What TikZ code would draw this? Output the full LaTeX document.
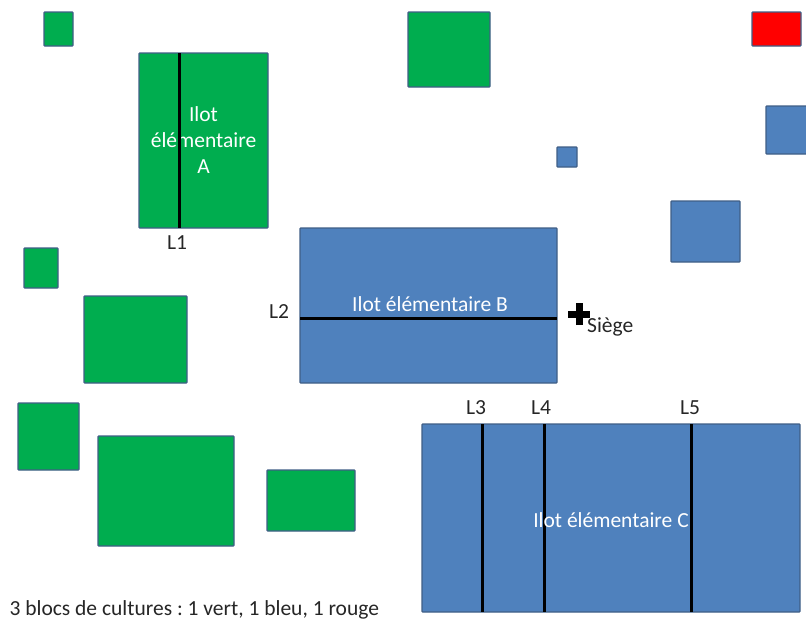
\documentclass[tikz,border=0pt]{standalone}
\usepackage{fontspec}
\setmainfont{Carlito}
\usetikzlibrary{positioning}
\frenchspacing

\definecolor{vert}{HTML}{00AD4F}
\definecolor{bleu}{HTML}{4F81BD}
\definecolor{rouge}{HTML}{FF0000}
\definecolor{bord}{HTML}{3F5E86}

\begin{document}
\begin{tikzpicture}[x=1pt, y=-1pt,
every node/.style={font=\fontsize{21.5}{26}\selectfont},
bloc/.style={rectangle, draw=bord, line width=1.3pt, anchor=north west, outer sep=0pt, inner sep=0pt, rounded corners=0.8pt, text=white},
culturev/.style={bloc, fill=vert},
cultureb/.style={bloc, fill=bleu},
culturer/.style={bloc, fill=rouge},
limite/.style={line width=3pt, black},
etiquette/.style={text=black!85}
]
\clip (0,0) rectangle (806,624);

% blocs verts
\node [culturev, minimum width=29, minimum height=34] (v1) at (44,12) {};
\node [culturev, minimum width=82, minimum height=75] (v2) at (408,12) {};
\node [culturev, minimum width=34, minimum height=40] (v3) at (24,248) {};
\node [culturev, minimum width=103, minimum height=87] (v4) at (84,296) {};
\node [culturev, minimum width=61, minimum height=67] (v5) at (18,403) {};
\node [culturev, minimum width=136, minimum height=110] (v6) at (98,436) {};
\node [culturev, minimum width=88, minimum height=61] (v7) at (267,470) {};

% blocs bleus
\node [cultureb, minimum width=60, minimum height=48] (b1) at (766,106) {};
\node [cultureb, minimum width=20, minimum height=20] (b2) at (557,147) {};
\node [cultureb, minimum width=69, minimum height=61] (b3) at (671,201) {};

% bloc rouge
\node [culturer, minimum width=49, minimum height=34] (r1) at (752,12) {};

% ilots elementaires
\node [culturev, minimum width=129, minimum height=175, align=center] (ilotA) at (139,53) {Ilot\\élémentaire\\A};
\node [cultureb, minimum width=257, minimum height=155] (ilotB) at (300,228) {};
\node [cultureb, minimum width=378, minimum height=188] (ilotC) at (422,424) {};

\coordinate (l1) at (179,0);
\coordinate (l2) at (0,318);
\coordinate (l3) at (482,0);
\coordinate (l4) at (544,0);
\coordinate (l5) at (691,0);

\draw [limite] (l1 |- ilotA.north) -- (l1 |- ilotA.south);
\draw [limite] (l2 -| ilotB.west) -- (l2 -| ilotB.east);
\draw [limite] (l3 |- ilotC.north) -- (l3 |- ilotC.south);
\draw [limite] (l4 |- ilotC.north) -- (l4 |- ilotC.south);
\draw [limite] (l5 |- ilotC.north) -- (l5 |- ilotC.south);

\node [text=white] (txtB) at (430,304) {Ilot élémentaire B};
\node [text=white] (txtC) at (611,520) {Ilot élémentaire C};

\node [etiquette] (L1) at (177,243) {L1};
\node [etiquette] (L2) at (279,312) {L2};
\node [etiquette] (L3) at (476,408) {L3};
\node [etiquette] (L4) at (541,408) {L4};
\node [etiquette] (L5) at (690,408) {L5};

% siege
\coordinate (siege) at (579,314);
\draw [line width=7pt] ([xshift=-11pt]siege) -- ([xshift=11pt]siege);
\draw [line width=7pt] ([yshift=-11pt]siege) -- ([yshift=11pt]siege);
\node [etiquette, anchor=base west, inner sep=0pt] (txtsiege) at (587,332) {Siège};

\node [etiquette, anchor=west] (legende) at (6,610) {3 blocs de cultures : 1 vert, 1 bleu, 1 rouge};
\end{tikzpicture}
\end{document}
